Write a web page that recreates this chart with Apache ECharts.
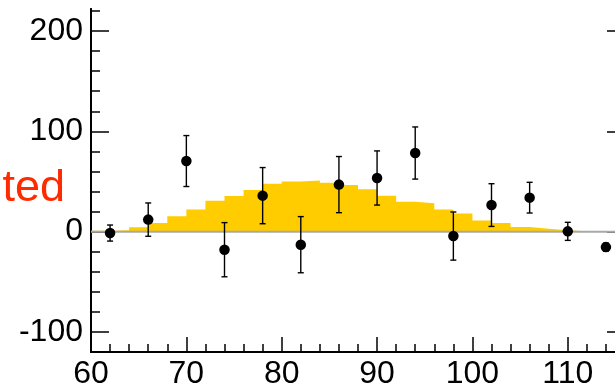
<!DOCTYPE html>
<html>
<head>
<meta charset="utf-8">
<script src="https://cdn.jsdelivr.net/npm/echarts@6/dist/echarts.min.js"></script>
<style>
  html, body { margin: 0; padding: 0; background: #ffffff; }
  #chart { width: 615px; height: 388px; }
</style>
</head>
<body>
<div id="chart"></div>
<script>
// Expected signal shape: histogram bin edges (GeV) and contents per bin
const binEdges = [60, 62, 64, 66, 68, 70, 72, 74, 76, 78, 80, 82, 84, 86, 88,
                  90, 92, 94, 96, 98, 100, 102, 104, 106, 108, 110, 112, 114, 116];
const binValues = [1, 1.5, 4.3, 8.6, 15.3, 22.2, 30.9, 35.5, 41.5, 47.8, 50.1, 51.1, 48.8, 46.5,
                   42.2, 35.7, 29.9, 28.2, 22, 18, 11, 8.5, 4.6, 3, 1.3, 0.5, 0.4, 0.3];

// Background-subtracted data points with statistical errors
const pointX   = [62, 66, 70, 74, 78, 82, 86, 90, 94, 98, 102, 106, 110, 114];
const pointY   = [-1.4, 12, 70.4, -18, 35.9, -13, 46.9, 53.5, 78.4, -4.4, 26.5, 33.9, 0.3, -15.4];
const pointErr = [8, 16.6, 25.4, 27, 28, 28, 28, 27, 26, 24, 21.3, 15.3, 9, 4];

// Axis ticks
const xMajorTicks = [60, 70, 80, 90, 100, 110];
const xMinorTicks = [62, 64, 66, 68, 72, 74, 76, 78, 82, 84, 86, 88, 92, 94, 96, 98,
                     102, 104, 106, 108, 112, 114];
const yMajorTicks = [-100, 0, 100, 200];
const yMinorTicks = [-120, -80, -60, -40, -20, 20, 40, 60, 80, 120, 140, 160, 180, 220];

const xRange = [60, 116];
const yRange = [-120, 222];

const chart = echarts.init(document.getElementById('chart'), null, { renderer: 'canvas' });

const fontFamily = '"Liberation Sans", Arial, Helvetica, sans-serif';

function xAxisDef(ticks, len, showLabel) {
  return {
    type: 'value', position: 'bottom', min: xRange[0], max: xRange[1],
    axisLine: { show: true, onZero: false, lineStyle: { color: '#000', width: 2 } },
    axisTick: { show: true, inside: true, length: len, customValues: ticks,
                lineStyle: { color: '#000', width: 1.5 } },
    axisLabel: { show: showLabel, customValues: ticks, margin: 6, fontSize: 32,
                 color: '#000', fontFamily: fontFamily, formatter: v => String(v) },
    splitLine: { show: false }
  };
}

function yAxisDef(pos, ticks, len, showLabel) {
  return {
    type: 'value', position: pos, min: yRange[0], max: yRange[1],
    axisLine: { show: true, onZero: false, lineStyle: { color: '#000', width: 2 } },
    axisTick: { show: true, inside: true, length: len, customValues: ticks,
                lineStyle: { color: '#000', width: 1.5 } },
    axisLabel: { show: showLabel, customValues: ticks, margin: 8, fontSize: 32,
                 color: '#000', fontFamily: fontFamily, formatter: v => String(v) },
    splitLine: { show: false }
  };
}

// Step outline: each bin edge carries the content of the bin that starts there
const histData = binEdges.map((x, i) => [x, binValues[Math.min(i, binValues.length - 1)]]);
const errData = pointX.map((x, i) => [x, pointY[i], pointErr[i]]);
const ptData = pointX.map((x, i) => [x, pointY[i]]);

chart.setOption({
  animation: false,
  backgroundColor: '#ffffff',
  grid: { left: 91, top: 9, width: 534, height: 343, containLabel: false, outerBoundsMode: 'none' },
  xAxis: [
    xAxisDef(xMajorTicks, 15, true),
    xAxisDef(xMinorTicks, 8, false)
  ],
  yAxis: [
    yAxisDef('left', yMajorTicks, 18, true),
    yAxisDef('left', yMinorTicks, 9, false),
    yAxisDef('right', yMajorTicks, 18, false)
  ],
  graphic: [{
    type: 'text', x: 65, y: 189, z: 10,
    style: { text: 'ted', fill: '#ff2a00', font: '45px ' + fontFamily,
             align: 'right', verticalAlign: 'middle' }
  }],
  series: [
    {
      name: 'signal', type: 'line', step: 'end', data: histData,
      symbol: 'none', silent: true, z: 1,
      lineStyle: { width: 0, opacity: 0 },
      areaStyle: { color: '#ffcc00', opacity: 1 }
    },
    {
      name: 'zero', type: 'line', data: [[xRange[0], 0], [xRange[1], 0]],
      symbol: 'none', silent: true, z: 2,
      lineStyle: { color: '#a8a8a8', width: 2 }
    },
    {
      name: 'errors', type: 'custom', data: errData, z: 3,
      renderItem: function (params, api) {
        const x = api.value(0), y = api.value(1), e = api.value(2);
        const top = api.coord([x, y + e]);
        const bot = api.coord([x, y - e]);
        const cap = 3;
        const st = { stroke: '#000', lineWidth: 1.4 };
        return {
          type: 'group',
          children: [
            { type: 'line', shape: { x1: top[0], y1: top[1], x2: bot[0], y2: bot[1] }, style: st },
            { type: 'line', shape: { x1: top[0] - cap, y1: top[1], x2: top[0] + cap, y2: top[1] }, style: st },
            { type: 'line', shape: { x1: bot[0] - cap, y1: bot[1], x2: bot[0] + cap, y2: bot[1] }, style: st }
          ]
        };
      }
    },
    {
      name: 'data', type: 'scatter', data: ptData, z: 4,
      symbol: 'circle', symbolSize: 10.5,
      itemStyle: { color: '#000', opacity: 1 }
    }
  ]
});
</script>
</body>
</html>
